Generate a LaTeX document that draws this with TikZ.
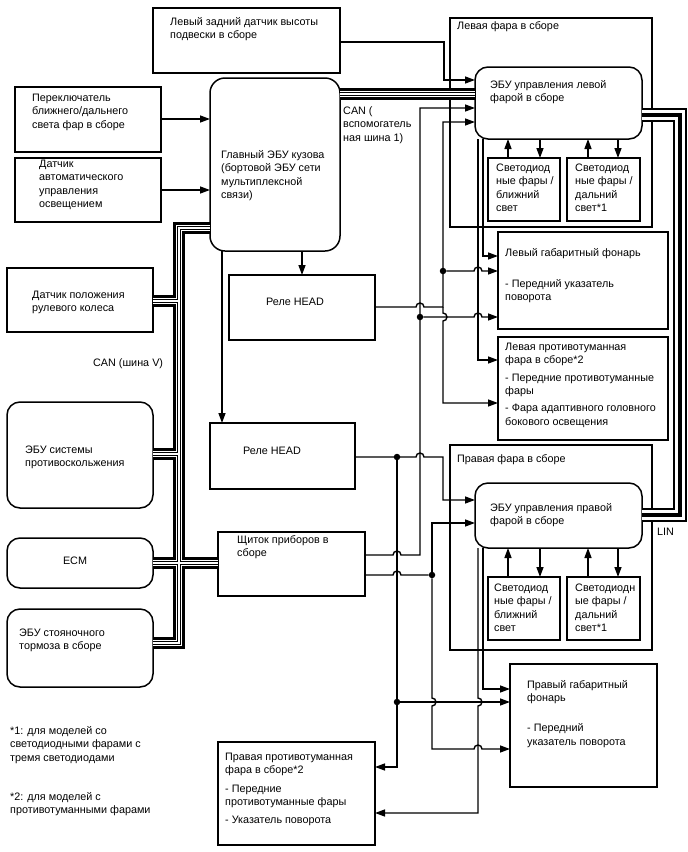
\documentclass[tikz,border=0pt]{standalone}
\usepackage{fontspec}
\setmainfont{Liberation Sans}
\usetikzlibrary{arrows.meta}
\newcommand\boxat[6]{\node[#1,anchor=north west,minimum width={#5-#3},minimum height={#6-#4}] (#2) at (#3,#4) {};}
\begin{document}
\begin{tikzpicture}[x=1pt,y=-1pt,
  box/.style={draw, line width=1.5pt, inner sep=0pt, outer sep=0pt},
  rbox/.style={box, rounded corners=13pt},
  txt/.style={anchor=north west, inner sep=0pt, align=left, font=\fontsize{10.8}{13.5}\selectfont, yshift=6.5pt},
  wire/.style={line width=1.4pt},
  arr/.style={wire, -{Triangle[length=10pt,width=7pt]}},
  dot/.style={circle, fill, inner sep=0pt, minimum size=6.5pt},
  bus/.style={draw=black, line width=12pt, postaction={draw=white,line width=6pt}, postaction={draw=black,line width=3.4pt}, postaction={draw=white,line width=1.2pt}},
  linbus/.style={draw=black, line width=14pt, postaction={draw=white,line width=10pt}, postaction={draw=black,line width=4pt}},
]
\useasboundingbox (0,0) rectangle (688,852);
\fill[white] (0,0) rectangle (688,852);

% boxes
\boxat{box}{hs}{153}{8}{340}{73}
\boxat{box}{sw}{15}{87}{161}{152}
\boxat{box}{als}{15}{158}{161}{222}
\boxat{box,rounded corners=15pt}{bcm}{210}{78}{340}{251}
\boxat{box}{lhl}{450}{18}{652}{227}
\boxat{rbox}{lecu}{475}{67}{642}{139}
\boxat{box}{lledA}{488}{158}{560}{221}
\boxat{box}{lledB}{567}{158}{640}{221}
\boxat{box}{lclr}{498}{232}{668}{329}
\boxat{box}{lfog}{498}{337}{668}{440}
\boxat{box}{str}{7}{268}{153}{332}
\boxat{box}{relA}{229}{275}{375}{340}
\boxat{box}{relB}{210}{423}{355}{489}
\boxat{rbox}{skid}{7}{402}{153}{508}
\boxat{rbox}{ecm}{7}{538}{153}{588}
\boxat{rbox}{epb}{7}{609}{153}{687}
\boxat{box}{meter}{218}{532}{365}{596}
\boxat{box}{rhl}{450}{445}{652}{650}
\boxat{rbox}{recu}{475}{483}{642}{548}
\boxat{box}{rledA}{488}{577}{560}{640}
\boxat{box}{rledB}{567}{577}{640}{640}
\boxat{box}{rclr}{510}{664}{657}{787}
\boxat{box}{rfog}{218}{742}{375}{845}

% texts
\node[txt] (t1) at (170,22) {\strut Левый задний датчик высоты\\подвески в сборе};
\node[txt] (t2) at (32,98) {\strut Переключатель\\ближнего/дальнего\\света фар в сборе};
\node[txt] (t3) at (39,164) {\strut Датчик\\автоматического\\управления\\освещением};
\node[txt] (t4) at (221,155) {\strut Главный ЭБУ кузова\\(бортовой ЭБУ сети\\мультиплексной\\связи)};
\node[txt] (t5) at (343,111) {\strut CAN (\\вспомогатель\\ная шина 1)};
\node[txt] (t6) at (457,26) {\strut Левая фара в сборе};
\node[txt] (t7) at (490,85) {\strut ЭБУ управления левой\\фарой в сборе};
\node[txt] (t8) at (496,168) {\strut Светодиод\\ные фары /\\ближний\\свет};
\node[txt] (t9) at (575,168) {\strut Светодиод\\ные фары /\\дальний\\свет*1};
\node[txt] (t10) at (505,253) {\strut Левый габаритный фонарь\\[17.5pt]- Передний указатель\\поворота};
\node[txt] (t11) at (505,347) {\strut Левая противотуманная\\фара в сборе*2\\[4pt]- Передние противотуманные\\фары\\[3.5pt]- Фара адаптивного головного\\бокового освещения};
\node[txt] (t12) at (32,295) {\strut Датчик положения\\рулевого колеса};
\node[txt] (t13) at (93,363) {\strut CAN (шина V)};
\node[txt] (t14) at (266,302) {\strut Реле HEAD};
\node[txt] (t15) at (243,451) {\strut Реле HEAD};
\node[txt] (t16) at (25,450) {\strut ЭБУ системы\\противоскольжения};
\node[inner sep=0pt, font=\fontsize{10.8}{13.5}\selectfont] (t17) at (75,561) {ECM};
\node[txt] (t18) at (19,633) {\strut ЭБУ стояночного\\тормоза в сборе};
\node[txt] (t19) at (237,540) {\strut Щиток приборов в\\сборе};
\node[txt] (t20) at (457,459) {\strut Правая фара в сборе};
\node[txt] (t21) at (490,508) {\strut ЭБУ управления правой\\фарой в сборе};
\node[txt] (t22) at (494,588) {\strut Светодиод\\ные фары /\\ближний\\свет};
\node[txt] (t23) at (575,588) {\strut Светодиодн\\ые фары /\\дальний\\свет*1};
\node[txt] (t24) at (657,532) {\strut LIN};
\node[txt] (t25) at (10,731) {\strut *1: для моделей со\\светодиодными фарами с\\тремя светодиодами};
\node[txt] (t26) at (10,797) {\strut *2: для моделей с\\противотуманными фарами};
\node[txt] (t27) at (225,757) {\strut Правая противотуманная\\фара в сборе*2\\[5pt]- Передние\\противотуманные фары\\[4pt]- Указатель поворота};
\node[txt] (t28) at (527,685) {\strut Правый габаритный\\фонарь\\[16.5pt]- Передний\\указатель поворота};

% simple connectors
\draw[arr] (sw.east |- 0,119) -- (bcm.west |- 0,119);
\draw[arr] (als.east |- 0,190) -- (bcm.west |- 0,190);
\draw[arr] (hs.east |- 0,42) -| (444,80) -- (lecu.west |- 0,80);
\draw[arr] (bcm.south -| 302,0) -- (relA.north -| 302,0);
\draw[arr] (bcm.south -| 222,0) -- (relB.north -| 222,0);

% LED arrows
\draw[arr] (lledA.north -| 508,0) -- (lecu.south -| 508,0);
\draw[arr] (lecu.south -| 540,0) -- (lledA.north -| 540,0);
\draw[arr] (lledB.north -| 588,0) -- (lecu.south -| 588,0);
\draw[arr] (lecu.south -| 618,0) -- (lledB.north -| 618,0);
\draw[arr] (rledA.north -| 508,0) -- (recu.south -| 508,0);
\draw[arr] (recu.south -| 540,0) -- (rledA.north -| 540,0);
\draw[arr] (rledB.north -| 588,0) -- (recu.south -| 588,0);
\draw[arr] (recu.south -| 618,0) -- (rledB.north -| 618,0);

% left ECU outputs
\draw[arr] (lecu.south -| 483,0) |- (lclr.west |- 0,256);
\draw[arr] (lecu.south -| 478,0) |- (lfog.west |- 0,360);

% relay 1 network
\coordinate (jA) at (443,307);
\draw[arr] (relA.east |- 0,307) -- (416,307) arc[start angle=180,end angle=0,radius=4pt] -- (jA) -- (443,122) -- (lecu.west |- 0,122);
\draw[arr] (jA) -- (443,313) arc[start angle=90,end angle=-90,radius=4pt] -- (443,403) -- (lfog.west |- 0,403);
\node[dot] (dA) at (443,271) {};
\draw[arr] (dA) -- (474,271) arc[start angle=180,end angle=0,radius=4pt] -- (lclr.west |- 0,271);

% meter to left side
\draw[arr] (meter.east |- 0,555) -- (393,555) arc[start angle=180,end angle=0,radius=4pt] -- (420,555) -- (420,108) -- (lecu.west |- 0,108);
\node[dot] (dB) at (420,317) {};
\draw[arr] (dB) -- (474,317) arc[start angle=180,end angle=0,radius=4pt] -- (lclr.west |- 0,317);

% relay 2 network
\node[dot] (dC) at (397,457) {};
\draw[arr] (relB.east |- 0,457) -- (416,457) arc[start angle=180,end angle=0,radius=4pt] -- (443,457) -- (443,500) -- (recu.west |- 0,500);
\draw[arr] (dC) -- (397,767) -- (rfog.east |- 0,767);
\node[dot] (dD) at (397,702) {};
\draw[arr] (dD) -- (rclr.west |- 0,702);

% meter second output
\node[dot] (dE) at (432,575) {};
\draw[wire] (meter.east |- 0,575) -- (393,575) arc[start angle=180,end angle=0,radius=4pt] -- (dE);
\draw[arr] (dE) -- (432,523) -- (recu.west |- 0,523);
\draw[arr] (dE) -- (432,698) arc[start angle=90,end angle=-90,radius=4pt] -- (432,749) -- (474,749) arc[start angle=180,end angle=0,radius=4pt] -- (rclr.west |- 0,749);

% right ECU outputs
\draw[arr] (recu.south -| 483,0) |- (rclr.west |- 0,689);
\draw[arr] (recu.south -| 478,0) -- (478,698) arc[start angle=90,end angle=-90,radius=4pt] -- (478,813) -- (rfog.east |- 0,813);

% buses
\path[bus] (bcm.east |- 0,94) -- (lecu.west |- 0,94);
\path[linbus] (lecu.east |- 0,115) -- (679.5,115) -- (679.5,515) -- (recu.east |- 0,515);
\path[bus] (bcm.west |- 0,228) -- (179,228) -- (179,643) -- (epb.east |- 0,643)
  (str.east |- 0,301) -- (179,301)
  (skid.east |- 0,454) -- (179,454)
  (ecm.east |- 0,563) -- (meter.west |- 0,563);
\end{tikzpicture}
\end{document}
